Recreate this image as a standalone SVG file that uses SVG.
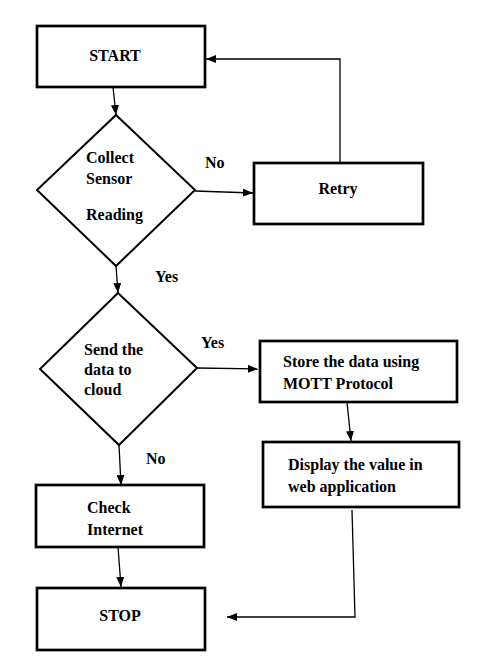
<svg xmlns="http://www.w3.org/2000/svg" width="482" height="672" viewBox="0 0 482 672">
<style>
.box{fill:#fff;stroke:#000;stroke-width:2.7}
.dia{fill:#fff;stroke:#000;stroke-width:2}
.t{font-family:"Liberation Serif","Times New Roman",serif;font-weight:bold;font-size:16px;fill:#000}
.c{fill:none;stroke:#000;stroke-width:1.3}
</style>
<defs>
<marker id="ah" viewBox="0 0 10 8" refX="10" refY="4" markerWidth="10" markerHeight="8" markerUnits="userSpaceOnUse" orient="auto">
<path d="M0,0 L10,4 L0,8 Z" fill="#000"/>
</marker>
</defs>
<rect width="482" height="672" fill="#fff"/>
<g id="connectors">
<path class="c" d="M113,87 L116,115" marker-end="url(#ah)"/>
<path class="c" d="M195,191 L253,193" marker-end="url(#ah)"/>
<path class="c" d="M340,163 L340,59 L206,59" marker-end="url(#ah)"/>
<path class="c" d="M116,266 L118,293" marker-end="url(#ah)"/>
<path class="c" d="M197,368 L258,369" marker-end="url(#ah)"/>
<path class="c" d="M347,402 L351,441" marker-end="url(#ah)"/>
<path class="c" d="M119,445 L121,485" marker-end="url(#ah)"/>
<path class="c" d="M118,547 L121,587" marker-end="url(#ah)"/>
<path class="c" d="M352,510 L355,617 L227,617" marker-end="url(#ah)"/>
<text class="t" x="205" y="168">No</text>
<text class="t" x="155" y="282">Yes</text>
<text class="t" x="201" y="348">Yes</text>
<text class="t" x="146" y="464">No</text>
</g>
<g id="start">
<rect class="box" x="37" y="26" width="168" height="61"/>
<text class="t" x="115" y="61" text-anchor="middle">START</text>
</g>
<g id="collect">
<path class="dia" d="M116,115 L195,190 L116,266 L37,190 Z"/>
<text class="t" x="86" y="163">Collect</text>
<text class="t" x="86" y="184">Sensor</text>
<text class="t" x="86" y="220">Reading</text>
</g>
<g id="retry">
<rect class="box" x="254" y="163" width="169" height="61"/>
<text class="t" x="338" y="194" text-anchor="middle">Retry</text>
</g>
<g id="send">
<path class="dia" d="M118,293 L197,368 L119,445 L40,369 Z"/>
<text class="t" x="84" y="355">Send the</text>
<text class="t" x="84" y="375">data to</text>
<text class="t" x="84" y="395">cloud</text>
</g>
<g id="store">
<rect class="box" x="260" y="341" width="197" height="61"/>
<text class="t" x="283" y="367">Store the data using</text>
<text class="t" x="283" y="389">MOTT Protocol</text>
</g>
<g id="display">
<rect class="box" x="263" y="442" width="196" height="65"/>
<text class="t" x="288" y="470">Display the value in</text>
<text class="t" x="288" y="492">web application</text>
</g>
<g id="check">
<rect class="box" x="36" y="485" width="168" height="62"/>
<text class="t" x="87" y="513">Check</text>
<text class="t" x="87" y="535">Internet</text>
</g>
<g id="stop">
<rect class="box" x="37" y="588" width="168" height="62"/>
<text class="t" x="120" y="621" text-anchor="middle">STOP</text>
</g>
</svg>
